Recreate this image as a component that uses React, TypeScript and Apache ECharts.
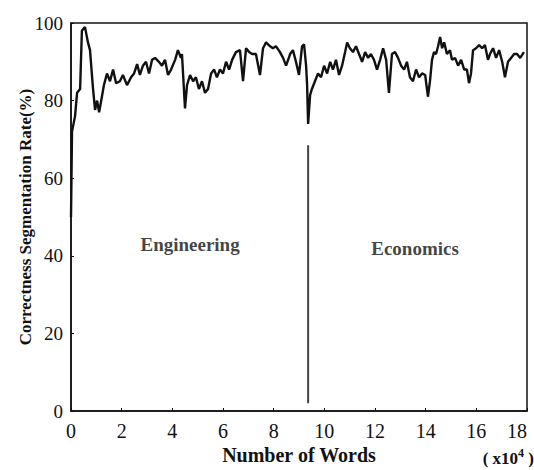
import React, { useEffect, useRef } from "react";
import * as echarts from "echarts";

// Number of words (x10^4)
const wordCounts = [
  0, 0.04, 0.16, 0.24, 0.36, 0.43, 0.55, 0.67, 0.75, 0.87, 0.95, 1.03, 1.11, 1.22, 1.3, 1.42, 1.54, 1.66, 1.78, 1.93,
  2.05, 2.21, 2.37, 2.49, 2.61, 2.72, 2.84, 2.96, 3.08, 3.2, 3.32, 3.47, 3.59, 3.71, 3.83, 3.95, 4.11, 4.22, 4.34, 4.38,
  4.5, 4.58, 4.7, 4.82, 4.93, 5.05, 5.17, 5.29, 5.41, 5.53, 5.65, 5.76, 5.88, 6.0, 6.12, 6.24, 6.36, 6.51, 6.67, 6.79,
  6.91, 7.03, 7.15, 7.3, 7.46, 7.58, 7.7, 7.86, 7.97, 8.09, 8.25, 8.37, 8.49, 8.65, 8.76, 8.88, 9.0, 9.12, 9.2, 9.28,
  9.32, 9.36, 9.44, 9.51, 9.63, 9.75, 9.87, 9.99, 10.11, 10.23, 10.34, 10.46, 10.58, 10.7, 10.82, 10.9, 11.01, 11.13,
  11.25, 11.37, 11.49, 11.61, 11.73, 11.84, 11.96, 12.08, 12.2, 12.32, 12.44, 12.55, 12.67, 12.79, 12.91, 13.03, 13.15,
  13.26, 13.38, 13.5, 13.62, 13.74, 13.86, 13.98, 14.09, 14.17, 14.25, 14.33, 14.41, 14.49, 14.57, 14.65, 14.73, 14.84,
  14.96, 15.04, 15.16, 15.28, 15.4, 15.52, 15.63, 15.71, 15.79, 15.87, 15.99, 16.11, 16.23, 16.34, 16.46, 16.54, 16.66,
  16.78, 16.9, 17.02, 17.13, 17.25, 17.37, 17.49, 17.61, 17.73, 17.88,
];

// Correctness segmentation rate (%)
const rates = [
  50, 72, 76, 82, 83, 98, 99, 95, 93, 83, 77.6, 80, 77, 81, 84, 87, 85, 88, 84.5, 85,
  86.6, 84, 86, 87, 89.4, 86.6, 89, 90, 87, 90.5, 91, 90, 89, 90.5, 86.6, 88, 90.5, 93, 91, 92,
  78, 84, 86.6, 85, 86, 83, 85, 82, 83, 87, 88, 86, 88, 87, 90, 88, 90.5, 92.5, 93, 85,
  93.5, 92.5, 92, 92, 86.6, 93.5, 95, 94, 93.5, 94, 92.5, 91, 89, 92, 93, 90, 86.6, 94, 94.5, 89,
  84, 74, 81.5, 83, 85, 87, 86, 89, 87, 90, 88, 90.5, 86.6, 89, 92.5, 95, 93.5, 92.5,
  94, 92, 90, 92.5, 91, 92, 90.5, 88, 90.5, 93.5, 90.5, 82, 92, 92.5, 91, 89, 88,
  90, 86, 85, 88, 86, 87, 86.6, 81, 85, 90.5, 92.5, 92, 94, 96.4, 93.5, 95, 92,
  93, 90.5, 91, 89, 90.5, 88, 88, 84.5, 87, 93, 93.5, 94.3, 93.5, 94.3, 90.5, 92, 93.5,
  91, 93, 90, 86, 90, 91, 92, 92, 91, 92.5,
];

const xTicks = [0, 2, 4, 6, 8, 10, 12, 14, 16, 18];
const yTicks = [0, 20, 40, 60, 80, 100];

// Field divider and field names
const dividerX = 9.36;
const dividerRange = [2, 68.5];
const fieldNames = ["Engineering", "Economics"];
const fieldLabelX = [4.7, 13.58];
const fieldLabelY = [42.8, 42];

const FONT = '"Liberation Serif", "Times New Roman", serif';

export default function App() {
  const ref = useRef<HTMLDivElement>(null);
  useEffect(() => {
    if (!ref.current) return;
    const chart = echarts.init(ref.current, null, { renderer: "svg" });
    const lineData = wordCounts.map((x, i) => [x, rates[i]]);
    chart.setOption({
      animation: false,
      backgroundColor: "#ffffff",
      grid: {
        left: 71,
        right: 7,
        top: 23,
        bottom: 59,
        outerBoundsMode: "none",
        containLabel: false,
        show: true,
        borderColor: "#111",
        borderWidth: 1.5,
        backgroundColor: "transparent",
      },
      xAxis: {
        type: "value",
        min: 0,
        max: 18,
        interval: 2,
        name: "Number of Words",
        nameLocation: "middle",
        nameGap: 34,
        nameMoveOverlap: false,
        nameTextStyle: { fontFamily: FONT, fontSize: 20, fontWeight: "bold", color: "#111" },
        axisLine: { show: true, lineStyle: { color: "#111", width: 1.5 } },
        axisTick: { show: true, inside: true, length: 3, lineStyle: { color: "#111" } },
        axisLabel: {
          fontFamily: FONT,
          fontSize: 20,
          color: "#111",
          margin: 10,
          alignMaxLabel: "right",
          formatter: (v: number) => (xTicks.includes(v) ? String(v) : ""),
        },
        splitLine: { show: false },
      },
      yAxis: {
        type: "value",
        min: 0,
        max: 100,
        interval: 20,
        name: "Correctness Segmentation Rate(%)",
        nameLocation: "middle",
        nameGap: 37,
        nameMoveOverlap: false,
        nameTextStyle: { fontFamily: FONT, fontSize: 17, fontWeight: "bold", color: "#111" },
        axisLine: { show: true, lineStyle: { color: "#111", width: 1.5 } },
        axisTick: { show: true, inside: true, length: 3, lineStyle: { color: "#111" } },
        axisLabel: {
          fontFamily: FONT,
          fontSize: 19,
          color: "#111",
          margin: 8,
          formatter: (v: number) => (yTicks.includes(v) ? String(v) : ""),
        },
        splitLine: { show: false },
      },
      graphic: [
        {
          type: "text",
          right: 0,
          bottom: 3,
          style: {
            text: "( x10{sup|4} )",
            fontFamily: FONT,
            fontSize: 17,
            fontWeight: "bold",
            fill: "#111",
            rich: {
              sup: { fontFamily: FONT, fontSize: 12, fontWeight: "bold", verticalAlign: "top", padding: [0, 0, 12, 0] },
            },
          },
        },
      ],
      series: [
        {
          type: "line",
          data: lineData,
          showSymbol: false,
          symbol: "none",
          lineStyle: { color: "#111", width: 2.4 },
        },
        {
          type: "line",
          data: [
            [dividerX, dividerRange[0]],
            [dividerX, dividerRange[1]],
          ],
          showSymbol: false,
          symbol: "none",
          lineStyle: { color: "#444", width: 2 },
        },
        {
          type: "scatter",
          symbolSize: 0,
          data: fieldNames.map((n, i) => ({ value: [fieldLabelX[i], fieldLabelY[i]], name: n })),
          label: {
            show: true,
            position: "inside",
            formatter: (p: any) => p.name,
            fontFamily: FONT,
            fontSize: 19,
            fontWeight: "bold",
            color: "#111",
          },
        },
      ],
    });
    return () => chart.dispose();
  }, []);
  return (
    <div
      ref={ref}
      style={{ position: "fixed", left: 0, top: 0, width: 534, height: 470, background: "#fff" }}
    />
  );
}
